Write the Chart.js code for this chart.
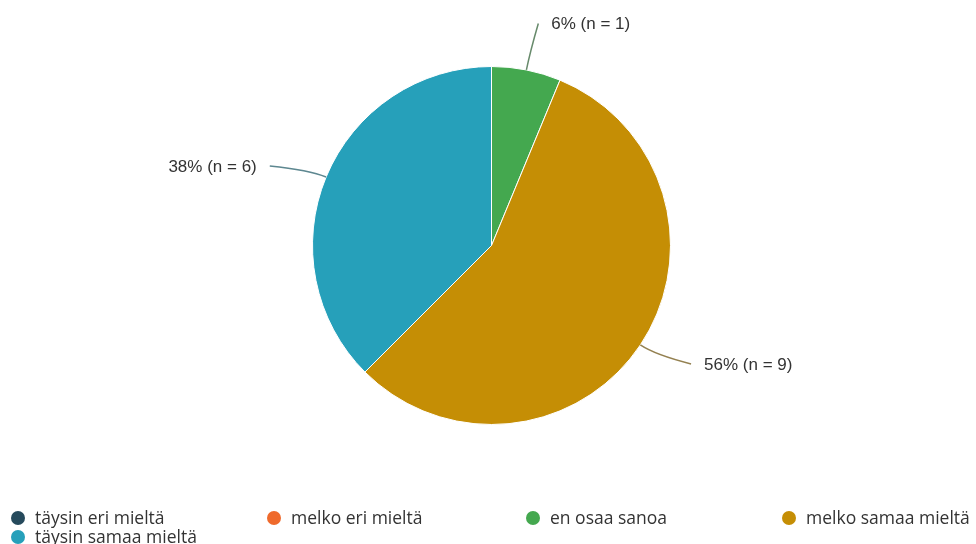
<!DOCTYPE html>
<html>
<head>
<meta charset="utf-8">
<script src="https://cdn.jsdelivr.net/npm/chart.js@4/dist/chart.umd.min.js"></script>
<style>
  html, body { margin: 0; padding: 0; background: #fff; }
  #wrap { position: relative; width: 976px; height: 544px; }
  canvas { display: block; }
  #legend {
    position: absolute; left: 0; top: 0; width: 976px; height: 544px;
    pointer-events: none;
    font-family: "Open Sans", "DejaVu Sans", sans-serif;
    font-size: 17.5px; color: #333;
  }
  .item { position: absolute; white-space: nowrap; height: 18px; }
  .dot { position: absolute; left: 0; top: 2px; width: 14px; height: 14px; border-radius: 50%; }
  .txt { position: absolute; left: 24px; top: -2px; line-height: 20px; }
</style>
</head>
<body>
<div id="wrap">
  <canvas id="c" width="976" height="544"></canvas>
  <div id="legend"></div>
</div>
<script>
// Answer options and number of respondents per option
const categories = ['täysin eri mieltä', 'melko eri mieltä', 'en osaa sanoa', 'melko samaa mieltä', 'täysin samaa mieltä'];
const counts = [0, 0, 1, 9, 6];
const colors = ['#264a5c', '#ef6a2c', '#44a84f', '#c58e05', '#26a0ba'];

const total = counts.reduce((a, b) => a + b, 0);

function mix(hex, grey, t) {
  const p = h => [1, 3, 5].map(k => parseInt(h.slice(k, k + 2), 16));
  const a = p(hex), b = p(grey);
  return 'rgb(' + a.map((v, i) => Math.round(v * t + b[i] * (1 - t))).join(',') + ')';
}

// Outside labels with curved connectors: "xx% (n = y)"
const pieLabels = {
  id: 'pieLabels',
  afterDatasetsDraw(chart) {
    const ctx = chart.ctx;
    const meta = chart.getDatasetMeta(0);
    ctx.save();
    ctx.font = '17px "Liberation Sans", Arial, sans-serif';
    ctx.textBaseline = 'middle';
    meta.data.forEach((arc, i) => {
      const v = counts[i];
      if (!v) return;
      const p = arc.getProps(['x', 'y', 'startAngle', 'endAngle', 'outerRadius'], true);
      const mid = (p.startAngle + p.endAngle) / 2;
      const dx = Math.cos(mid), dy = Math.sin(mid);
      const r = p.outerRadius;
      const ex = p.x + r * dx, ey = p.y + r * dy;
      const qx = p.x + (r + 18) * dx, qy = p.y + (r + 18) * dy;
      const ax = p.x + (r + 61) * dx;
      const ay = p.y + (r + 17 + 31 * Math.abs(dy)) * dy;

      ctx.beginPath();
      ctx.moveTo(ex, ey);
      ctx.quadraticCurveTo(qx, qy, ax, ay);
      ctx.strokeStyle = mix(colors[i], '#7a7a7a', 0.35);
      ctx.lineWidth = 1.5;
      ctx.stroke();

      const right = dx >= 0;
      ctx.textAlign = right ? 'left' : 'right';
      ctx.fillStyle = '#333';
      const text = Math.round(v / total * 100) + '% (n = ' + v + ')';
      ctx.fillText(text, ax + (right ? 13 : -13), ay + 1);
    });
    ctx.restore();
  }
};

new Chart(document.getElementById('c'), {
  type: 'pie',
  data: {
    labels: categories,
    datasets: [{
      data: counts,
      backgroundColor: colors,
      borderColor: '#ffffff',
      borderWidth: 1
    }]
  },
  options: {
    responsive: false,
    animation: false,
    layout: { padding: { top: 66, bottom: 119, left: 10, right: 3 } },
    plugins: {
      legend: { display: false },
      tooltip: { enabled: false }
    }
  },
  plugins: [pieLabels]
});

// Legend: four columns, wrapping onto a second row
const legendCols = [11, 267, 526, 782];
const legendRows = [509, 528];
const legend = document.getElementById('legend');
categories.forEach((name, i) => {
  const item = document.createElement('div');
  item.className = 'item';
  item.style.left = legendCols[i % 4] + 'px';
  item.style.top = legendRows[Math.floor(i / 4)] + 'px';
  const dot = document.createElement('span');
  dot.className = 'dot';
  dot.style.background = colors[i];
  const txt = document.createElement('span');
  txt.className = 'txt';
  txt.textContent = name;
  item.appendChild(dot);
  item.appendChild(txt);
  legend.appendChild(item);
});
</script>
</body>
</html>
